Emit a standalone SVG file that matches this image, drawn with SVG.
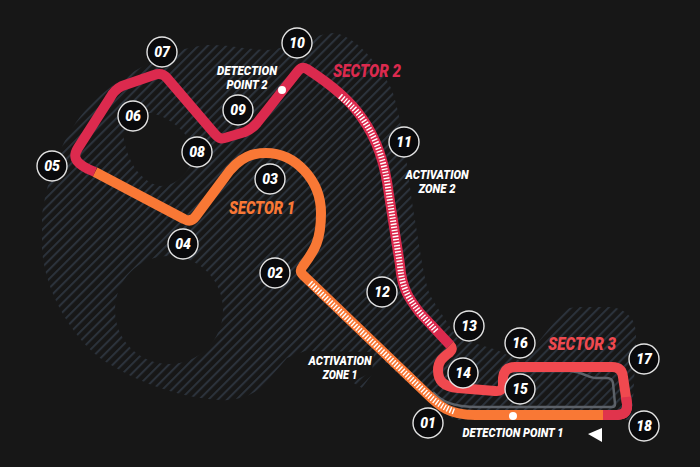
<svg xmlns="http://www.w3.org/2000/svg" width="700" height="467" viewBox="0 0 700 467">
<style>
.t{fill:none;stroke-width:10;stroke-linejoin:round;stroke-linecap:butt}
.d{fill:none;stroke:#fff;stroke-width:6;stroke-dasharray:1.4 1.7}
.n circle{fill:#0a0a0c;stroke:#e4e4e4;stroke-width:1.4}
text{font-family:Roboto,"Liberation Sans",sans-serif;font-weight:900;font-style:italic;text-anchor:middle}
.n text{font-size:14px;fill:#fff}
.l{font-size:12.500px;fill:#fff}
.s{font-size:18px}
</style>
<defs>
<pattern id="h" width="6.6" height="6.6" patternUnits="userSpaceOnUse" patternTransform="rotate(-45)">
<rect width="6.6" height="2" fill="#2b323b"/>
</pattern>
</defs>
<rect width="700" height="467" fill="#171717"/>
<path id="hatch" fill="url(#h)" fill-rule="evenodd" d="M42 215C48 175 62 135 90 105C115 80 165 48 207 45C228 44 250 50 268 50C290 48 315 33 335 33C360 38 382 70 392 90C404 125 408 180 415 220C420 250 424 280 430 295C438 310 450 325 457 338L497 350L522 362L552 325C556 312 565 307 580 307L612 307C628 310 636 320 636 335L636 345L632 420L455 420C440 410 425 398 410 385L385 362L380 363L362 388L352 382L372 372L374 352L305 351L287 358L262 387C250 397 235 401 220 400C180 398 135 382 100 358C70 335 45 290 42 250ZM123 133C130 120 142 112 152 113C170 118 186 130 195 150C192 170 178 186 160 186C140 182 126 160 123 133ZM115 310A54 54 0 1 0 223 310A54 54 0 1 0 115 310Z"/>
<g id="connectors">
<path class="t" stroke="#5c6168" style="stroke-width:2.5" d="M433 392C441 401 452 407 478 407L612 407Q615 407 615 404L613 383Q612 378 607 378L596 378C588 378 584 372 570 371L505 371"/>
<path class="t" stroke="#f97835" d="M95 172L184 219Q191 223 196 216L225 177C240 155 255 153 266 153C295 153 321 180 321 213C321 240 315 250 303 266Q299 271 303 275L425 392C440 407 450 415 475 415L603 415"/>
<path class="t" stroke="#dc2a4e" d="M95 172L88 169C74 162 73 156 78 148L110 98Q114 90 122 86L154 75Q162 72 167 78L214 133C220 140 222 139 228 137L245 132Q252 129 257 123L298 71Q302 66 307 69C335 87 352 103 362 118C380 143 386 170 389 195L400 265C402 290 410 300 420 313L450 345"/>
<path class="t" stroke="#f0494f" d="M450 345Q454 349 449 353C442 358 438 362 438 370C438 382 445 387 458 388L495 391Q503 392 503 384L503 378Q504 367 515 367L612 367Q622 367 623 377L627 404Q628 415 617 415L603 415"/>
<path class="t" stroke="#e0344c" d="M603 415L617 415Q628 415 627 404L626.200 397"/>
<path class="d" d="M310 283L425 392C434 401 444 408 454 411.500"/>
<path class="d" d="M340 96C352 106 357 111 362 118C380 143 386 170 389 195L400 265C402 290 410 300 420 313L437 332"/>
<circle cx="282" cy="90" r="4" fill="#fff"/>
<circle cx="513" cy="416" r="4" fill="#fff"/>
<path d="M588 434L602 428L602 442Z" fill="#fff"/>
</g>
<g id="node-01" class="n"><circle cx="428" cy="423" r="15"/><text x="428" y="428">01</text></g>
<g id="node-02" class="n"><circle cx="275" cy="273" r="15"/><text x="275" y="278">02</text></g>
<g id="node-03" class="n"><circle cx="270" cy="179" r="15"/><text x="270" y="184">03</text></g>
<g id="node-04" class="n"><circle cx="183" cy="244" r="15"/><text x="183" y="249">04</text></g>
<g id="node-05" class="n"><circle cx="52" cy="166" r="15"/><text x="52" y="171">05</text></g>
<g id="node-06" class="n"><circle cx="133" cy="116" r="15"/><text x="133" y="121">06</text></g>
<g id="node-07" class="n"><circle cx="162" cy="52" r="15"/><text x="162" y="57">07</text></g>
<g id="node-08" class="n"><circle cx="197" cy="152" r="15"/><text x="197" y="157">08</text></g>
<g id="node-09" class="n"><circle cx="238" cy="110" r="15"/><text x="238" y="115">09</text></g>
<g id="node-10" class="n"><circle cx="297" cy="43" r="15"/><text x="297" y="48">10</text></g>
<g id="node-11" class="n"><circle cx="404" cy="142" r="15"/><text x="404" y="147">11</text></g>
<g id="node-12" class="n"><circle cx="382" cy="292" r="15"/><text x="382" y="297">12</text></g>
<g id="node-13" class="n"><circle cx="469" cy="326" r="15"/><text x="469" y="331">13</text></g>
<g id="node-14" class="n"><circle cx="463" cy="373" r="15"/><text x="463" y="378">14</text></g>
<g id="node-15" class="n"><circle cx="520" cy="389" r="15"/><text x="520" y="394">15</text></g>
<g id="node-16" class="n"><circle cx="520" cy="343" r="15"/><text x="520" y="348">16</text></g>
<g id="node-17" class="n"><circle cx="644" cy="359" r="15"/><text x="644" y="364">17</text></g>
<g id="node-18" class="n"><circle cx="644" cy="426" r="15"/><text x="644" y="431">18</text></g>
<g id="labels">
<text class="s" x="262" y="214" fill="#f97835" textLength="66" lengthAdjust="spacingAndGlyphs">SECTOR 1</text>
<text class="s" x="367" y="77" fill="#dc2a4e" textLength="68" lengthAdjust="spacingAndGlyphs">SECTOR 2</text>
<text class="s" x="582" y="350" fill="#f0494f" textLength="68" lengthAdjust="spacingAndGlyphs">SECTOR 3</text>
<text class="l" x="247" y="75" textLength="60" lengthAdjust="spacingAndGlyphs">DETECTION</text>
<text class="l" x="247" y="89" textLength="41" lengthAdjust="spacingAndGlyphs">POINT 2</text>
<text class="l" x="437" y="179" textLength="63" lengthAdjust="spacingAndGlyphs">ACTIVATION</text>
<text class="l" x="437" y="193" textLength="37" lengthAdjust="spacingAndGlyphs">ZONE 2</text>
<text class="l" x="340" y="365" textLength="63" lengthAdjust="spacingAndGlyphs">ACTIVATION</text>
<text class="l" x="340" y="379" textLength="35" lengthAdjust="spacingAndGlyphs">ZONE 1</text>
<text class="l" x="513" y="437" textLength="101" lengthAdjust="spacingAndGlyphs">DETECTION POINT 1</text>
</g>
</svg>
